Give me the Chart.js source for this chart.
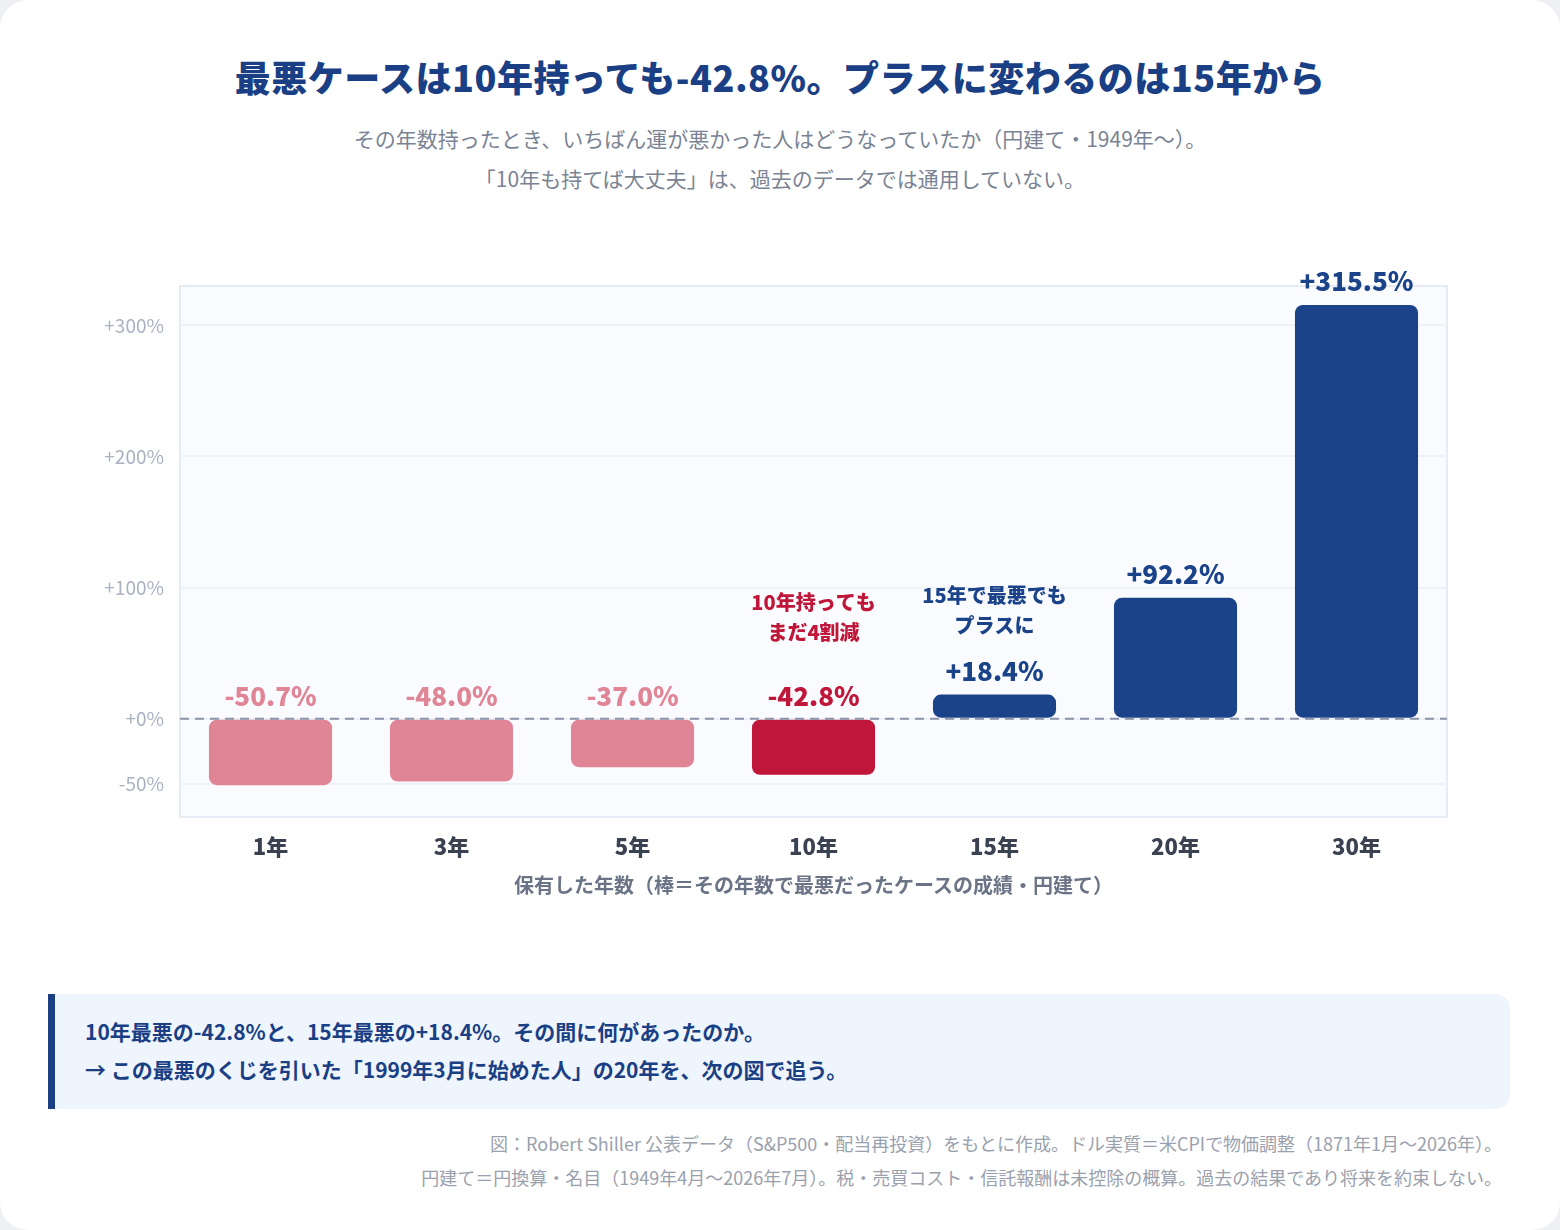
<!DOCTYPE html>
<html><head><meta charset="utf-8">
<script src="https://cdn.jsdelivr.net/npm/chart.js@4"></script>
<style>
body{margin:0;background:#eef0f4;font-family:"Noto Sans CJK JP","Noto Sans",sans-serif;}
.card{position:absolute;left:0;top:0;width:1560px;height:1230px;background:#fff;border-radius:28px;}
h1{position:absolute;top:50px;left:0;width:1560px;text-align:center;margin:0;font-size:36px;font-weight:900;color:#1a3f84;letter-spacing:0.5px;}
.sub{position:absolute;top:118px;left:0;width:1560px;text-align:center;font-size:21px;color:#7a8394;line-height:40px;}
#wrap{position:absolute;left:80px;top:230px;width:1380px;height:690px;}
.xt{position:absolute;top:870px;left:180px;width:1267px;text-align:center;font-size:20px;font-weight:700;color:#6b7486;}
.note{position:absolute;left:48px;top:994px;width:1462px;height:115px;background:#eef5fd;border-left:7px solid #1a3f84;border-radius:0 14px 14px 0;box-sizing:border-box;padding:18px 30px;font-size:21px;font-weight:700;color:#1a3f84;line-height:38px;}
.foot{position:absolute;top:1126px;right:58px;text-align:right;font-size:18px;color:#9aa1ae;line-height:34px;}
</style></head><body>
<div class="card">
<h1>最悪ケースは10年持っても-42.8%。プラスに変わるのは15年から</h1>
<div class="sub">その年数持ったとき、いちばん運が悪かった人はどうなっていたか（円建て・1949年〜）。<br>「10年も持てば大丈夫」は、過去のデータでは通用していない。</div>
<div id="wrap"><canvas id="c"></canvas></div>
<div class="xt">保有した年数（棒＝その年数で最悪だったケースの成績・円建て）</div>
<div class="note">10年最悪の-42.8%と、15年最悪の+18.4%。その間に何があったのか。<br>→ この最悪のくじを引いた「1999年3月に始めた人」の20年を、次の図で追う。</div>
<div class="foot">図：Robert Shiller 公表データ（S&amp;P500・配当再投資）をもとに作成。ドル実質＝米CPIで物価調整（1871年1月〜2026年）。<br>円建て＝円換算・名目（1949年4月〜2026年7月）。税・売買コスト・信託報酬は未控除の概算。過去の結果であり将来を約束しない。</div>
</div>
<script>
const periods = ["1年", "3年", "5年", "10年", "15年", "20年", "30年"];
const worstReturns = [-50.7, -48.0, -37.0, -42.8, 18.4, 92.2, 315.5];
const yTicks = [-50, 0, 100, 200, 300];
const barColors = ["#e08595", "#e08595", "#e08595", "#c0163a", "#1a4389", "#1a4389", "#1a4389"];
const labelColors = ["#e08595", "#e08595", "#e08595", "#c0163a", "#1a4389", "#1a4389", "#1a4389"];
const notes = { 3: ["10年持っても", "まだ4割減"], 4: ["15年で最悪でも", "プラスに"] };

const FONT = '"Noto Sans CJK JP","Noto Sans",sans-serif';

const decor = {
  id: "decor",
  beforeDraw(chart) {
    const { ctx, chartArea: a } = chart;
    ctx.save();
    ctx.fillStyle = "#fafbfe";
    ctx.fillRect(a.left, a.top, a.width, a.height);
    ctx.strokeStyle = "#e6eaf2";
    ctx.lineWidth = 2;
    ctx.strokeRect(a.left, a.top, a.width, a.height);
    ctx.restore();
  },
  afterDatasetsDraw(chart) {
    const { ctx, chartArea: a, scales } = chart;
    const y0 = scales.y.getPixelForValue(0);
    ctx.save();
    ctx.strokeStyle = "#8a93a8";
    ctx.lineWidth = 2;
    ctx.setLineDash([9, 6]);
    ctx.beginPath();
    ctx.moveTo(a.left, y0);
    ctx.lineTo(a.right, y0);
    ctx.stroke();
    ctx.setLineDash([]);
    ctx.textAlign = "center";
    const meta = chart.getDatasetMeta(0);
    meta.data.forEach((bar, i) => {
      const v = worstReturns[i];
      const top = Math.min(bar.y, bar.base);
      ctx.fillStyle = labelColors[i];
      ctx.font = "900 26px " + FONT;
      const txt = (v > 0 ? "+" : "") + v.toFixed(1) + "%";
      ctx.fillText(txt, bar.x, top - 14);
      if (notes[i]) {
        ctx.font = "900 20px " + FONT;
        const base = v < 0 ? top - 80 : top - 62;
        ctx.fillText(notes[i][0], bar.x, base - 30);
        ctx.fillText(notes[i][1], bar.x, base);
      }
    });
    ctx.restore();
  }
};

new Chart(document.getElementById("c"), {
  type: "bar",
  data: {
    labels: periods,
    datasets: [{
      data: worstReturns,
      backgroundColor: barColors,
      borderRadius: 8,
      borderSkipped: false,
      barPercentage: 0.68,
      categoryPercentage: 1
    }]
  },
  options: {
    responsive: true,
    maintainAspectRatio: false,
    animation: false,
    layout: { padding: { top: 56, right: 13 } },
    plugins: { legend: { display: false }, tooltip: { enabled: false } },
    scales: {
      x: {
        grid: { display: false },
        border: { display: false },
        ticks: { color: "#3a4150", font: { family: FONT, size: 22, weight: 900 }, padding: 8 },
        afterFit(s) { s.height = 103; }
      },
      y: {
        min: -75,
        max: 330,
        afterBuildTicks(s) { s.ticks = yTicks.map(v => ({ value: v })); },
        grid: { color: "#eef1f6", lineWidth: 2, drawTicks: false },
        border: { display: false },
        ticks: {
          color: "#aab2c2",
          padding: 16,
          font: { family: FONT, size: 19 },
          callback: v => (v >= 0 ? "+" : "") + v + "%"
        },
        afterFit(s) { s.width = 100; }
      }
    }
  },
  plugins: [decor]
});
</script>
</body></html>
